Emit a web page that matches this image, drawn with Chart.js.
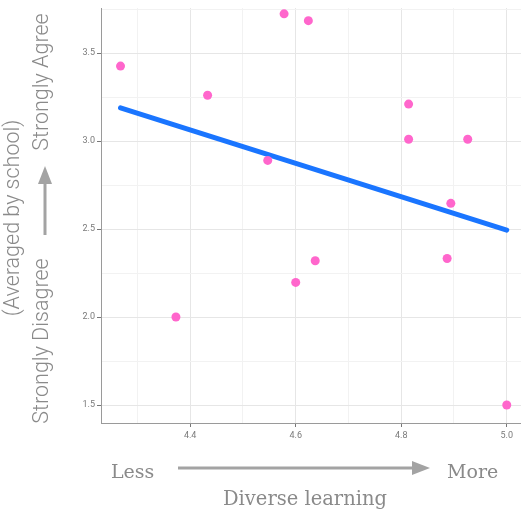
<!DOCTYPE html>
<html>
<head>
<meta charset="utf-8">
<script src="https://cdn.jsdelivr.net/npm/chart.js@4"></script>
<style>
  body { margin: 0; background: #fff; }
  #wrap { width: 521px; height: 511px; }
</style>
</head>
<body>
<div id="wrap"><canvas id="chart" width="521" height="511"></canvas></div>
<script>
// schools: diverse learning (x) vs agreement (y), averaged by school
const diverseLearning = [4.268, 4.578, 4.624, 4.433, 4.814, 4.814, 4.926, 4.547, 4.894, 4.637, 4.600, 4.887, 4.373, 5.0];
const agreement = [3.426, 3.723, 3.684, 3.26, 3.21, 3.01, 3.01, 2.89, 2.646, 2.32, 2.197, 2.333, 2.0, 1.5];

// fitted line end points
const fitX = [4.268, 5.0];
const fitY = [3.189, 2.494];

const xMajorTicks = [4.4, 4.6, 4.8, 5.0];
const xMinorTicks = [4.3, 4.5, 4.7, 4.9];
const yMajorTicks = [1.5, 2.0, 2.5, 3.0, 3.5];
const yMinorTicks = [1.75, 2.25, 2.75, 3.25, 3.75];

const GREY_TEXT = '#8a8a8a';

const allTicks = (major, minor) => major.concat(minor).sort((a, b) => a - b).map(v => ({ value: v }));

const gridColor = (major) => (ctx) => major.includes(ctx.tick.value) ? '#e6e6e6' : '#f2f2f2';
const tickColor = (major) => (ctx) => major.includes(ctx.tick.value) ? '#777' : 'rgba(0,0,0,0)';

// arrows + the extra axis words
const annotations = {
  id: 'annotations',
  afterDraw(chart) {
    const ctx = chart.ctx;
    ctx.save();
    ctx.fillStyle = GREY_TEXT;
    ctx.strokeStyle = '#a3a3a3';
    ctx.lineWidth = 3;

    // x side
    ctx.font = '19px "DejaVu Serif"';
    ctx.textBaseline = 'alphabetic';
    ctx.textAlign = 'left';
    ctx.fillText('Less', 111, 478);
    ctx.fillText('More', 447, 478);
    ctx.textAlign = 'center';
    ctx.font = '19.5px "DejaVu Serif"';
    ctx.fillText('Diverse learning', 305, 505);

    ctx.beginPath();
    ctx.moveTo(178, 468);
    ctx.lineTo(414, 468);
    ctx.stroke();
    ctx.fillStyle = '#a3a3a3';
    ctx.beginPath();
    ctx.moveTo(430, 468);
    ctx.lineTo(412, 461);
    ctx.lineTo(412, 475);
    ctx.closePath();
    ctx.fill();

    // y side
    ctx.beginPath();
    ctx.moveTo(45, 235);
    ctx.lineTo(45, 182);
    ctx.stroke();
    ctx.beginPath();
    ctx.moveTo(45, 166);
    ctx.lineTo(38, 184);
    ctx.lineTo(52, 184);
    ctx.closePath();
    ctx.fill();

    ctx.fillStyle = GREY_TEXT;
    ctx.font = '300 21.5px Roboto';
    ctx.textAlign = 'center';
    ctx.textBaseline = 'middle';
    const vtext = (txt, x, y) => {
      ctx.save();
      ctx.translate(x, y);
      ctx.rotate(-Math.PI / 2);
      ctx.fillText(txt, 0, 0);
      ctx.restore();
    };
    vtext('(Averaged by school)', 14, 218);
    vtext('Strongly Disagree', 43, 341);
    vtext('Strongly Agree', 43, 82);
    ctx.restore();
  }
};

new Chart(document.getElementById('chart'), {
  type: 'scatter',
  data: {
    datasets: [
      {
        label: 'Schools',
        data: diverseLearning.map((x, i) => ({ x: x, y: agreement[i] })),
        backgroundColor: '#ff66cc',
        borderWidth: 0,
        pointRadius: 4.5,
        order: 0
      },
      {
        type: 'line',
        label: 'Fit',
        data: fitX.map((x, i) => ({ x: x, y: fitY[i] })),
        borderColor: '#1a75ff',
        borderWidth: 5,
        borderCapStyle: 'round',
        pointRadius: 0,
        fill: false,
        order: 1
      }
    ]
  },
  options: {
    responsive: false,
    animation: false,
    layout: { autoPadding: false, padding: { top: 8, right: 0, bottom: 0, left: 0 } },
    plugins: {
      legend: { display: false },
      tooltip: { enabled: false }
    },
    scales: {
      x: {
        type: 'linear',
        min: 4.231,
        max: 5.027,
        afterBuildTicks: (scale) => { scale.ticks = allTicks(xMajorTicks, xMinorTicks); },
        afterFit: (scale) => {
          scale.height = 88;
          scale.paddingLeft = 0;
          scale.paddingRight = 0;
        },
        ticks: {
          autoSkip: false,
          maxRotation: 0,
          padding: 3,
          color: '#7a7a7a',
          font: { family: 'Roboto', size: 9 },
          callback: (v) => xMajorTicks.includes(v) ? v.toFixed(1) : ''
        },
        grid: {
          color: gridColor(xMajorTicks),
          tickColor: tickColor(xMajorTicks),
          tickLength: 4
        },
        border: { color: '#9a9a9a', width: 1 }
      },
      y: {
        type: 'linear',
        min: 1.398,
        max: 3.756,
        afterBuildTicks: (scale) => { scale.ticks = allTicks(yMajorTicks, yMinorTicks); },
        afterFit: (scale) => {
          scale.width = 101;
          scale.paddingTop = 0;
          scale.paddingBottom = 0;
        },
        ticks: {
          autoSkip: false,
          padding: 2,
          color: '#7a7a7a',
          font: { family: 'Roboto', size: 9 },
          callback: (v) => yMajorTicks.includes(v) ? v.toFixed(1) : ''
        },
        grid: {
          color: gridColor(yMajorTicks),
          tickColor: tickColor(yMajorTicks),
          tickLength: 4
        },
        border: { color: '#9a9a9a', width: 1 }
      }
    }
  },
  plugins: [annotations]
});
</script>
</body>
</html>
